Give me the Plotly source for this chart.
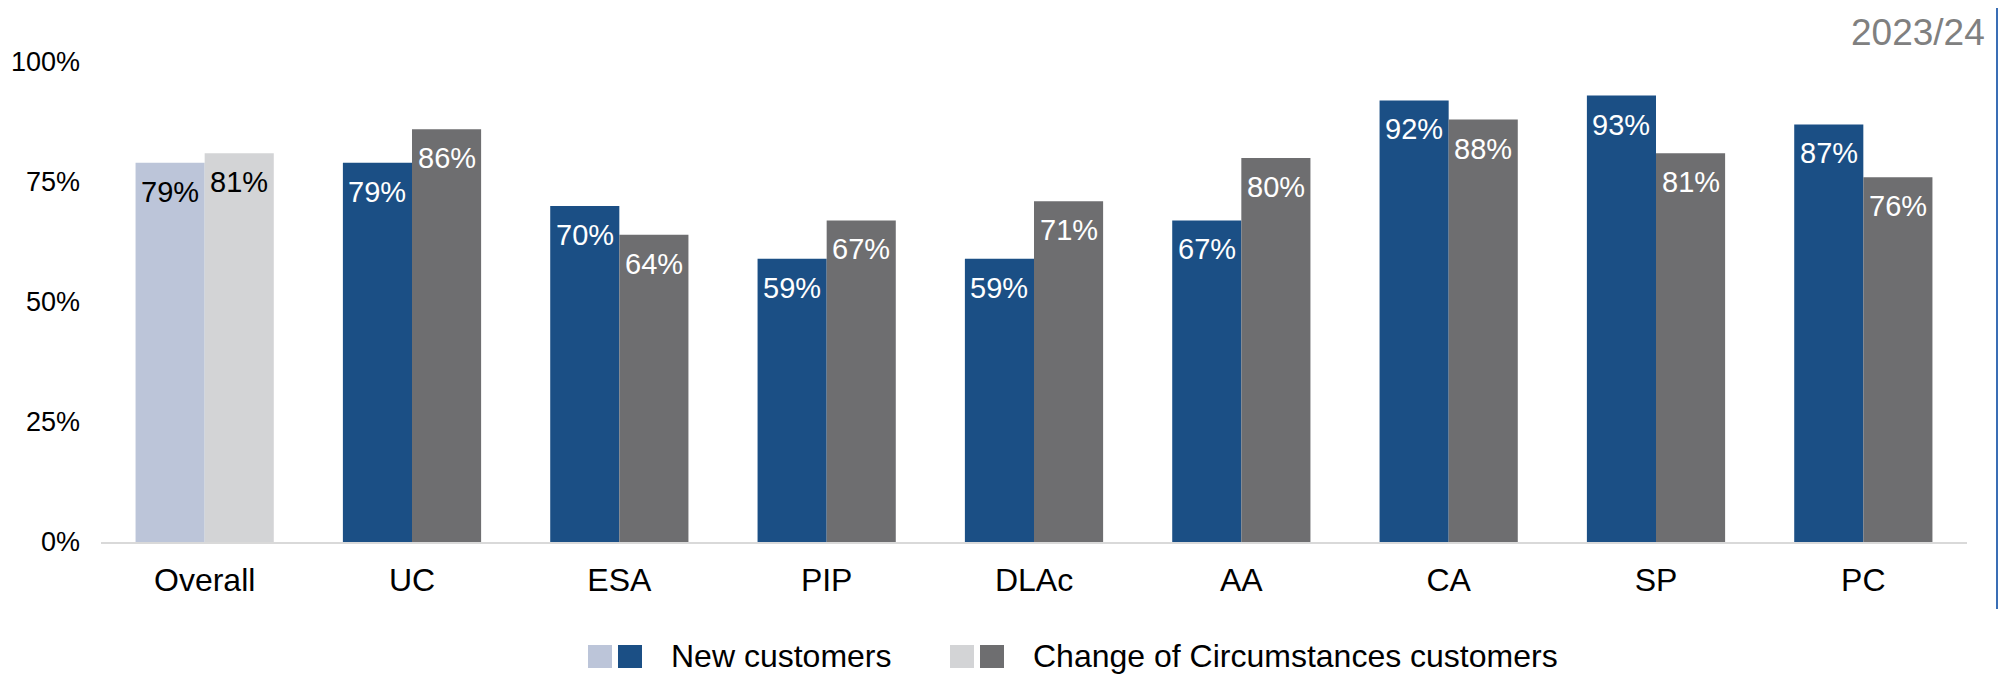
import plotly.graph_objects as go

categories = ["Overall", "UC", "ESA", "PIP", "DLAc", "AA", "CA", "SP", "PC"]
new_customers = [0.79, 0.79, 0.70, 0.59, 0.59, 0.67, 0.92, 0.93, 0.87]
coc_customers = [0.81, 0.86, 0.64, 0.67, 0.71, 0.80, 0.88, 0.81, 0.76]
y_ticks = [0, 0.25, 0.5, 0.75, 1.0]
y_tick_labels = ["0%", "25%", "50%", "75%", "100%"]
series_names = ["New customers", "Change of Circumstances customers"]
period_label = "2023/24"

NEW_DARK, NEW_LIGHT = "#1B4F85", "#BCC5D9"
COC_DARK, COC_LIGHT = "#6E6E70", "#D3D4D6"
FONT = "Liberation Sans, Arial, sans-serif"

# page is offset by the default 8px body margin
OFF = 8
W, H = 2007 - OFF, 674 - OFF
PLOT_L, PLOT_R, PLOT_T, PLOT_B = 101, 1967, 62, 542   # page pixels
PW, PH = PLOT_R - PLOT_L, PLOT_B - PLOT_T

def px_x(p):
    return (p - PLOT_L) / PW

def px_y(p):
    return (PLOT_B - p) / PH

new_colors = [NEW_LIGHT if c == "Overall" else NEW_DARK for c in categories]
coc_colors = [COC_LIGHT if c == "Overall" else COC_DARK for c in categories]

fig = go.Figure()
fig.add_trace(go.Bar(x=categories, y=new_customers, name=series_names[0],
                     marker=dict(color=new_colors, line=dict(width=0)), showlegend=False))
fig.add_trace(go.Bar(x=categories, y=coc_customers, name=series_names[1],
                     marker=dict(color=coc_colors, line=dict(width=0)), showlegend=False))

ann = []
for i, c in enumerate(categories):
    txtcol = "#000000" if c == "Overall" else "#FFFFFF"
    for vals, shift in ((new_customers, -34.6), (coc_customers, 34.6)):
        ann.append(dict(x=c, y=vals[i], xref="x", yref="y", text=f"{round(vals[i]*100)}%",
                        showarrow=False, xshift=shift, yshift=-29, yanchor="middle",
                        font=dict(family=FONT, size=29, color=txtcol)))

ann.append(dict(x=px_x(1987), y=px_y(32), xref="paper", yref="paper", text=period_label,
                showarrow=False, xanchor="right", yanchor="middle",
                font=dict(family=FONT, size=37, color="#808080")))

# custom legend (paired light/dark swatches)
shapes = []
leg_y0, leg_y1 = px_y(668), px_y(645)
for x0, col in ((588, NEW_LIGHT), (618, NEW_DARK), (950, COC_LIGHT), (980, COC_DARK)):
    shapes.append(dict(type="rect", xref="paper", yref="paper", x0=px_x(x0), x1=px_x(x0 + 24),
                       y0=leg_y0, y1=leg_y1, fillcolor=col, line=dict(width=0)))
for xt, name in ((669, series_names[0]), (1031, series_names[1])):
    ann.append(dict(x=px_x(xt), y=px_y(656), xref="paper", yref="paper", text=name,
                    showarrow=False, xanchor="left", yanchor="middle",
                    font=dict(family=FONT, size=32, color="#000000")))

shapes.append(dict(type="line", xref="paper", yref="paper", x0=px_x(1997), x1=px_x(1997),
                   y0=px_y(609), y1=px_y(5), line=dict(color="#3A6EB5", width=2)))

fig.update_layout(
    width=W, height=H,
    margin=dict(l=PLOT_L - OFF, r=W - (PLOT_R - OFF), t=PLOT_T - OFF,
                b=H - (PLOT_B - OFF), pad=0, autoexpand=False),
    paper_bgcolor="white", plot_bgcolor="white",
    barmode="group", bargap=1/3, bargroupgap=0,
    annotations=ann, shapes=shapes,
    font=dict(family=FONT, color="#000000"),
    xaxis=dict(showgrid=False, showline=True, linecolor="#D9D9D9", linewidth=2,
               ticks="", tickfont=dict(size=32, family=FONT, color="#000000"),
               ticklabelstandoff=9, fixedrange=True, automargin=False),
    yaxis=dict(range=[0, 1], showgrid=False, zeroline=False, showline=False,
               tickvals=y_ticks, ticktext=y_tick_labels, ticks="",
               tickfont=dict(size=27, family=FONT, color="#000000"),
               ticklabelstandoff=20, fixedrange=True, automargin=False),
)

fig.write_html("out.html", config={"displayModeBar": False})
